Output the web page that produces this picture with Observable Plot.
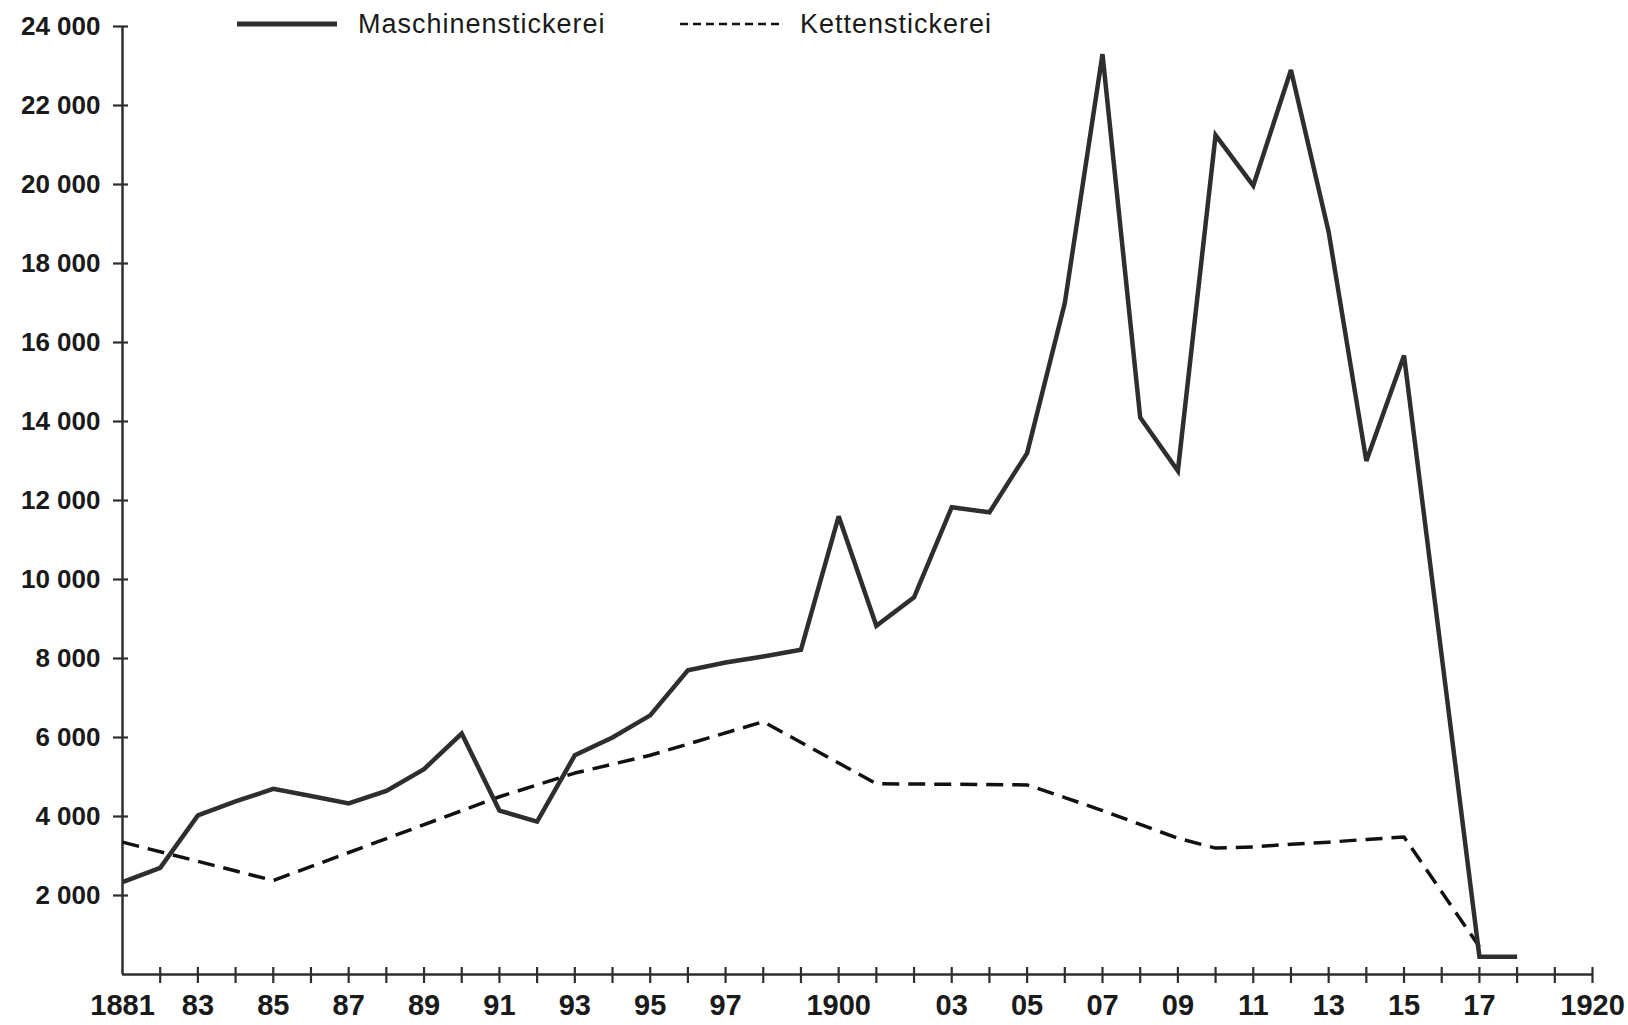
<!DOCTYPE html>
<html>
<head>
<meta charset="utf-8">
<script src="https://cdn.jsdelivr.net/npm/d3@7"></script>
<script src="https://cdn.jsdelivr.net/npm/@observablehq/plot@0.6"></script>
<style>
  html, body { margin: 0; padding: 0; background: #fff; }
  #wrap { position: relative; width: 1628px; height: 1025px; background: #fff; }
  #legend { position: absolute; left: 0; top: 0; width: 1628px; height: 50px; pointer-events: none; }
  .lg-text { position: absolute; top: 8px; font-family: "Liberation Sans", Arial, sans-serif; font-size: 27px; letter-spacing: 1px; color: #1a1a1a; line-height: 32px; }
  .lg-swatch { position: absolute; top: 14px; }
</style>
</head>
<body>
<div id="wrap">
  <div id="chart"></div>
  <div id="legend"></div>
</div>
<script>
// ---- Data ----
const machineYears  = [1881, 1882, 1883, 1884, 1885, 1886, 1887, 1888, 1889, 1890,
                       1891, 1892, 1893, 1894, 1895, 1896, 1897, 1898, 1899, 1900,
                       1901, 1902, 1903, 1904, 1905, 1906, 1907, 1908, 1909, 1910,
                       1911, 1912, 1913, 1914, 1915, 1917, 1918];
const machineValues = [2340, 2700, 4030, 4380, 4700, 4520, 4330, 4650, 5200, 6100,
                       4150, 3870, 5550, 6000, 6560, 7700, 7900, 8050, 8220, 11600,
                       8830, 9550, 11830, 11700, 13200, 17000, 23300, 14100, 12750, 21250,
                       19970, 22900, 18800, 13000, 15670, 450, 450];

const chainYears  = [1881, 1885, 1891, 1893, 1895, 1898, 1901, 1905, 1906, 1907,
                     1908, 1909, 1910, 1911, 1912, 1913, 1914, 1915, 1917];
const chainValues = [3350, 2380, 4500, 5100, 5550, 6400, 4830, 4800, 4480, 4150,
                     3800, 3450, 3200, 3230, 3300, 3350, 3420, 3480, 700];

const seriesNames = ["Maschinenstickerei", "Kettenstickerei"];

const yTicks = [2000, 4000, 6000, 8000, 10000, 12000, 14000, 16000, 18000, 20000, 22000, 24000];
const xTickYears = d3.range(1882, 1921);
const xLabelYears = [1881, 1883, 1885, 1887, 1889, 1891, 1893, 1895, 1897, 1900,
                     1903, 1905, 1907, 1909, 1911, 1913, 1915, 1917, 1920];
const xLabelTexts = ["1881", "83", "85", "87", "89", "91", "93", "95", "97", "1900",
                     "03", "05", "07", "09", "11", "13", "15", "17", "1920"];

// ---- Build tables ----
const machine = machineYears.map((y, i) => ({year: y, value: machineValues[i]}));
const chain = chainYears.map((y, i) => ({year: y, value: chainValues[i]}));

const fmtY = d => d3.format(",")(d).replace(/,/g, " ");
const fmtX = d => xLabelTexts[xLabelYears.indexOf(d)];

const ink = "#2e2e2e";
const textInk = "#1a1a1a";

const chart = Plot.plot({
  width: 1628,
  height: 1025,
  marginLeft: 122,
  marginRight: 36,
  marginTop: 26,
  marginBottom: 51,
  x: {domain: [1881, 1920]},
  y: {domain: [0, 24000]},
  style: {background: "#fff", color: textInk, overflow: "visible"},
  marks: [
    // axis lines
    Plot.ruleX([1881], {stroke: ink, strokeWidth: 2.5}),
    Plot.ruleY([0], {stroke: ink, strokeWidth: 2.5}),
    // tick marks crossing the axes
    Plot.axisY(yTicks, {tickSize: 15, dx: 6, fill: "none", stroke: ink, strokeWidth: 2.2, label: null}),
    Plot.axisX(xTickYears, {tickSize: 16, dy: -7, fill: "none", stroke: ink, strokeWidth: 2.2, label: null}),
    // tick labels
    Plot.axisY(yTicks, {tickSize: 0, tickPadding: 22, tickFormat: fmtY, label: null,
      fontSize: 26, fontWeight: "bold", fontFamily: "'Liberation Sans', Arial, sans-serif", fill: textInk,
      letterSpacing: "1.2px"}),
    Plot.axisX(xLabelYears, {tickSize: 0, tickPadding: 20, tickFormat: fmtX, label: null,
      fontSize: 29, fontWeight: "bold", fontFamily: "'Liberation Sans Narrow', 'Arial Narrow', 'Liberation Sans', sans-serif", fill: textInk}),
    // series
    Plot.line(chain, {x: "year", y: "value", stroke: "#111", strokeWidth: 3.5,
      strokeDasharray: "17,9", strokeLinejoin: "round", strokeLinecap: "butt"}),
    Plot.line(machine, {x: "year", y: "value", stroke: ink, strokeWidth: 4.5,
      strokeLinejoin: "miter", strokeMiterlimit: 3, strokeLinecap: "butt"})
  ]
});
document.getElementById("chart").appendChild(chart);

// ---- Legend (above the plot area, top row) ----
const legend = document.getElementById("legend");
legend.innerHTML = `
  <svg class="lg-swatch" style="left:235px" width="104" height="20">
    <line x1="2" y1="10" x2="102" y2="10" stroke="${ink}" stroke-width="5"/>
  </svg>
  <div class="lg-text" style="left:358px">${seriesNames[0]}</div>
  <svg class="lg-swatch" style="left:678px" width="108" height="20">
    <line x1="2" y1="10" x2="106" y2="10" stroke="#111" stroke-width="2.5" stroke-dasharray="8,5"/>
  </svg>
  <div class="lg-text" style="left:800px">${seriesNames[1]}</div>
`;
</script>
</body>
</html>
